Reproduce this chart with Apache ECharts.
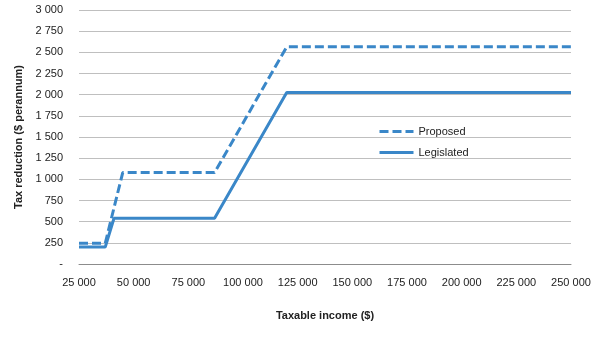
<!DOCTYPE html>
<html>
<head>
<meta charset="utf-8">
<script src="https://cdn.jsdelivr.net/npm/echarts@6/dist/echarts.min.js"></script>
<style>
  html, body { margin: 0; padding: 0; background: #fff; }
  #chart { width: 604px; height: 338px; }
</style>
</head>
<body>
<div id="chart"></div>
<script>
// Tax reduction by taxable income: proposed vs legislated offsets
const proposedIncome = [25000, 37000, 45000, 87000, 120000, 250000];
const proposedValue  = [245, 245, 1080, 1080, 2565, 2565];
const legislatedIncome = [25000, 37000, 41000, 87000, 120000, 250000];
const legislatedValue  = [200, 200, 540, 540, 2025, 2025];

const seriesNames = ['Proposed', 'Legislated'];
const lineColor = '#3A87C8';
const fontFamily = '"Liberation Sans", "DejaVu Sans", sans-serif';

function spaced(v) {
  return String(Math.round(v)).replace(/\B(?=(\d{3})+(?!\d))/g, ' ');
}

function pairs(xs, ys) {
  return xs.map((x, i) => [x, ys[i]]);
}

const chart = echarts.init(document.getElementById('chart'), null, { renderer: 'canvas' });
chart.setOption({
  animation: false,
  backgroundColor: '#fff',
  grid: { left: 79, right: 33, top: 10, bottom: 74, containLabel: false },
  legend: {
    data: seriesNames,
    orient: 'vertical',
    left: 373,
    top: 121,
    itemWidth: 34,
    itemHeight: 10,
    itemGap: 10,
    itemStyle: { opacity: 0 },
    lineStyle: { width: 3 },
    textStyle: { fontFamily, fontSize: 11, color: '#222' }
  },
  xAxis: {
    type: 'value',
    min: 25000,
    max: 250000,
    interval: 25000,
    name: 'Taxable income ($)',
    nameLocation: 'middle',
    nameGap: 46,
    nameTextStyle: { fontFamily, fontSize: 11, fontWeight: 'bold', color: '#222' },
    axisLine: { show: true, lineStyle: { color: '#8C8C8C', width: 1 } },
    axisTick: { show: false },
    splitLine: { show: false },
    axisLabel: { fontFamily, fontSize: 11, color: '#222', margin: 13, formatter: spaced }
  },
  yAxis: {
    type: 'value',
    min: 0,
    max: 3000,
    interval: 250,
    name: 'Tax reduction ($ perannum)',
    nameLocation: 'middle',
    nameGap: 53,
    nameTextStyle: { fontFamily, fontSize: 11, fontWeight: 'bold', color: '#222' },
    axisLine: { show: false },
    axisTick: { show: false },
    splitLine: { show: true, lineStyle: { color: '#BFBFBF', width: 1 } },
    axisLabel: {
      fontFamily, fontSize: 11, color: '#222', margin: 16,
      formatter: v => (v === 0 ? '-' : spaced(v))
    }
  },
  series: [
    {
      name: seriesNames[0],
      type: 'line',
      data: pairs(proposedIncome, proposedValue),
      symbol: 'none',
      lineStyle: { color: lineColor, width: 3, type: [9, 4] },
      itemStyle: { color: lineColor }
    },
    {
      name: seriesNames[1],
      type: 'line',
      data: pairs(legislatedIncome, legislatedValue),
      symbol: 'none',
      lineStyle: { color: lineColor, width: 3, type: 'solid' },
      itemStyle: { color: lineColor }
    }
  ]
});
</script>
</body>
</html>
